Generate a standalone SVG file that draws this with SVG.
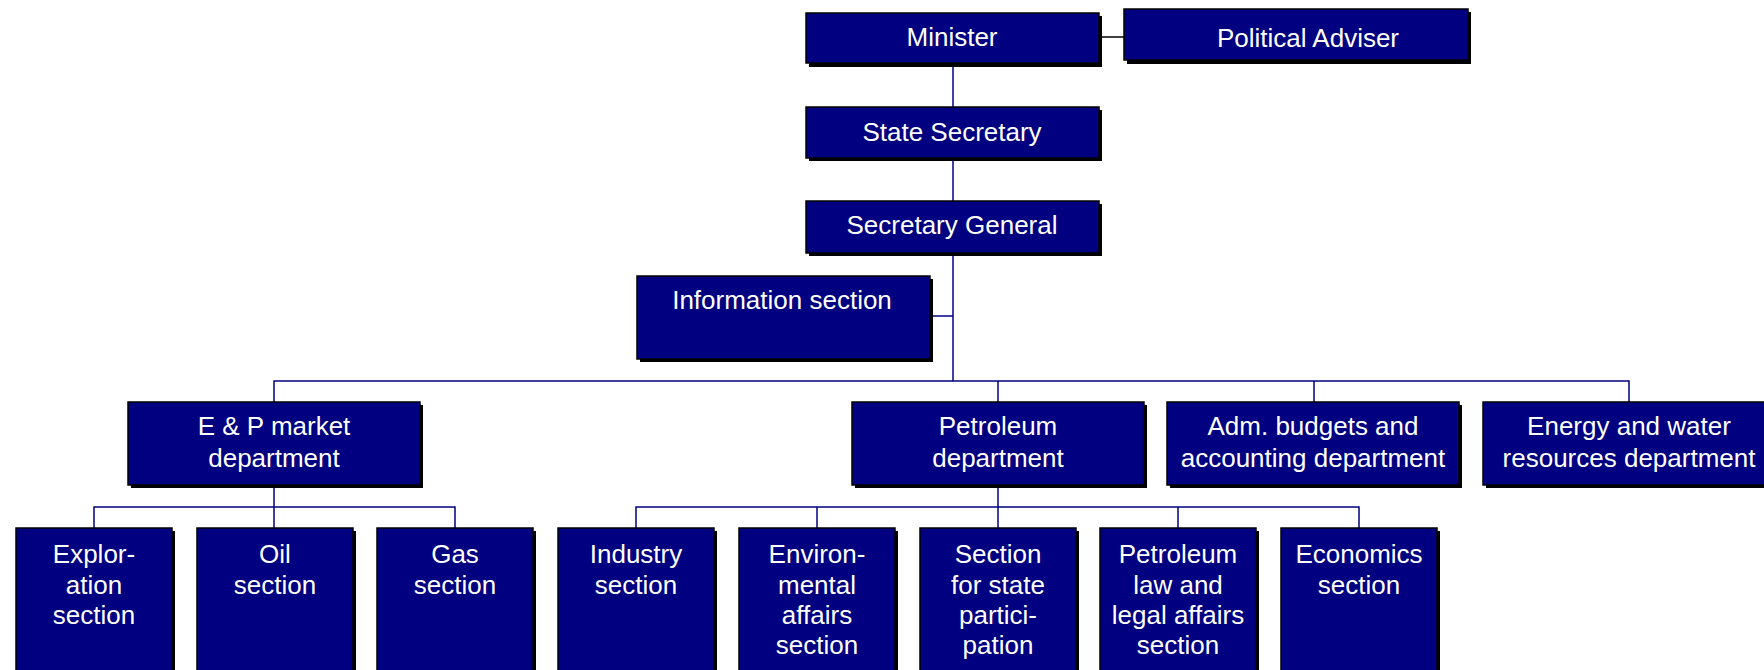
<svg xmlns="http://www.w3.org/2000/svg" width="1764" height="670" viewBox="0 0 1764 670">
<style>
.sh{fill:#000}
.bx{fill:#000080;stroke:#000;stroke-width:1.5}
.t{fill:#fff;font-family:"Liberation Sans",Arial,sans-serif;font-size:26px;text-anchor:middle}
.c{stroke:#000080;stroke-width:1.5;fill:none}
.k{stroke:#000;stroke-width:1.5;fill:none}
</style>
<rect width="1764" height="670" fill="#fff"/>
<g id="connectors">
<line class="k" x1="1099" y1="37" x2="1124" y2="37"/>
<line class="c" x1="953" y1="63" x2="953" y2="381"/>
<line class="c" x1="930" y1="316" x2="953" y2="316"/>
<polyline class="c" points="274,402 274,381 1629,381 1629,402"/>
<line class="c" x1="998" y1="381" x2="998" y2="402"/>
<line class="c" x1="1314" y1="381" x2="1314" y2="402"/>
<line class="c" x1="274" y1="485" x2="274" y2="528"/>
<polyline class="c" points="94,528 94,507 455,507 455,528"/>
<line class="c" x1="998" y1="485" x2="998" y2="528"/>
<polyline class="c" points="636,528 636,507 1359,507 1359,528"/>
<line class="c" x1="817" y1="507" x2="817" y2="528"/>
<line class="c" x1="1178" y1="507" x2="1178" y2="528"/>
</g>
<g id="minister"><rect class="sh" x="809" y="16" width="293" height="51"/><rect class="bx" x="806" y="13" width="293" height="50"/><text class="t" x="952" y="46">Minister</text></g>
<g id="political-adviser"><rect class="sh" x="1127" y="12" width="344" height="52"/><rect class="bx" x="1124" y="9" width="344" height="51"/><text class="t" x="1308" y="47">Political Adviser</text></g>
<g id="state-secretary"><rect class="sh" x="809" y="110" width="293" height="51"/><rect class="bx" x="806" y="107" width="293" height="51"/><text class="t" x="952" y="141">State Secretary</text></g>
<g id="secretary-general"><rect class="sh" x="809" y="204" width="293" height="52"/><rect class="bx" x="806" y="201" width="293" height="52"/><text class="t" x="952" y="234">Secretary General</text></g>
<g id="information-section"><rect class="sh" x="640" y="279" width="293" height="83"/><rect class="bx" x="637" y="276" width="293" height="83"/><text class="t" x="782" y="309">Information section</text></g>
<g id="ep-market"><rect class="sh" x="131" y="405" width="292" height="83"/><rect class="bx" x="128" y="402" width="292" height="83"/><text class="t" x="274" y="435">E &amp; P market</text><text class="t" x="274" y="467">department</text></g>
<g id="petroleum-dept"><rect class="sh" x="855" y="405" width="292" height="83"/><rect class="bx" x="852" y="402" width="292" height="83"/><text class="t" x="998" y="435">Petroleum</text><text class="t" x="998" y="467">department</text></g>
<g id="adm-budgets"><rect class="sh" x="1170" y="405" width="292" height="83"/><rect class="bx" x="1167" y="402" width="292" height="83"/><text class="t" x="1313" y="435">Adm. budgets and</text><text class="t" x="1313" y="467">accounting department</text></g>
<g id="energy-water"><rect class="sh" x="1486" y="405" width="292" height="83"/><rect class="bx" x="1483" y="402" width="292" height="83"/><text class="t" x="1629" y="435">Energy and water</text><text class="t" x="1629" y="467">resources department</text></g>
<g id="exploration"><rect class="sh" x="19" y="531" width="156" height="150"/><rect class="bx" x="16" y="528" width="156" height="150"/><text class="t" x="94" y="563">Explor-</text><text class="t" x="94" y="594">ation</text><text class="t" x="94" y="624">section</text></g>
<g id="oil"><rect class="sh" x="200" y="531" width="156" height="150"/><rect class="bx" x="197" y="528" width="156" height="150"/><text class="t" x="275" y="563">Oil</text><text class="t" x="275" y="594">section</text></g>
<g id="gas"><rect class="sh" x="380" y="531" width="156" height="150"/><rect class="bx" x="377" y="528" width="156" height="150"/><text class="t" x="455" y="563">Gas</text><text class="t" x="455" y="594">section</text></g>
<g id="industry"><rect class="sh" x="561" y="531" width="156" height="150"/><rect class="bx" x="558" y="528" width="156" height="150"/><text class="t" x="636" y="563">Industry</text><text class="t" x="636" y="594">section</text></g>
<g id="environmental"><rect class="sh" x="742" y="531" width="156" height="150"/><rect class="bx" x="739" y="528" width="156" height="150"/><text class="t" x="817" y="563">Environ-</text><text class="t" x="817" y="594">mental</text><text class="t" x="817" y="624">affairs</text><text class="t" x="817" y="654">section</text></g>
<g id="state-participation"><rect class="sh" x="923" y="531" width="156" height="150"/><rect class="bx" x="920" y="528" width="156" height="150"/><text class="t" x="998" y="563">Section</text><text class="t" x="998" y="594">for state</text><text class="t" x="998" y="624">partici-</text><text class="t" x="998" y="654">pation</text></g>
<g id="petroleum-law"><rect class="sh" x="1103" y="531" width="156" height="150"/><rect class="bx" x="1100" y="528" width="156" height="150"/><text class="t" x="1178" y="563">Petroleum</text><text class="t" x="1178" y="594">law and</text><text class="t" x="1178" y="624">legal affairs</text><text class="t" x="1178" y="654">section</text></g>
<g id="economics"><rect class="sh" x="1284" y="531" width="156" height="150"/><rect class="bx" x="1281" y="528" width="156" height="150"/><text class="t" x="1359" y="563">Economics</text><text class="t" x="1359" y="594">section</text></g>
</svg>
